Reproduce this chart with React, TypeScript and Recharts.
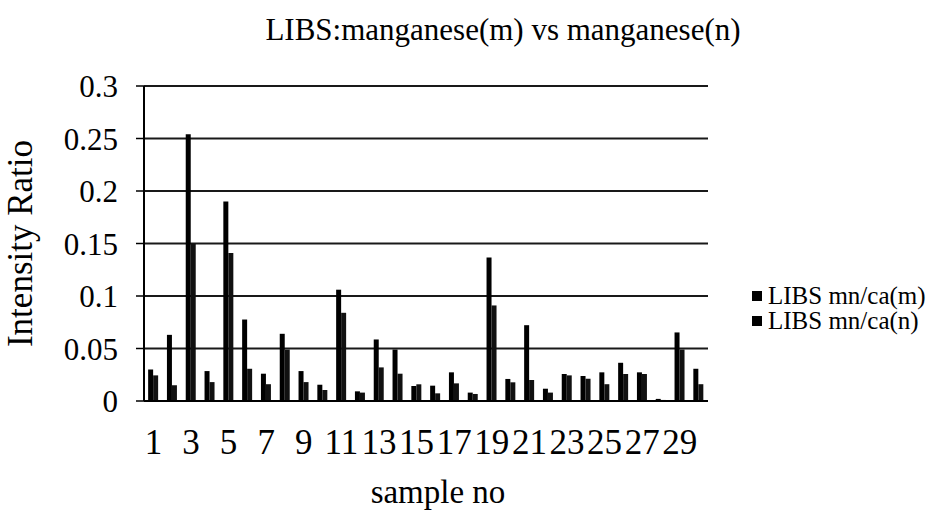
import React from "react";
import { BarChart, Bar, XAxis, YAxis, CartesianGrid, Legend } from "recharts";

const samples = [
  "1", "2", "3", "4", "5", "6", "7", "8", "9", "10",
  "11", "12", "13", "14", "15", "16", "17", "18", "19", "20",
  "21", "22", "23", "24", "25", "26", "27", "28", "29", "30",
];
const mnCaM = [
  0.030, 0.063, 0.254, 0.0285, 0.190, 0.0776, 0.026, 0.064, 0.0285, 0.0155,
  0.106, 0.0092, 0.0586, 0.049, 0.0143, 0.0146, 0.0273, 0.008, 0.1366, 0.021,
  0.0722, 0.0117, 0.0257, 0.0238, 0.0273, 0.0364, 0.0273, 0.002, 0.0653, 0.0307,
];
const mnCaN = [
  0.0244, 0.015, 0.150, 0.018, 0.141, 0.0307, 0.016, 0.049, 0.018, 0.0105,
  0.084, 0.008, 0.032, 0.026, 0.0159, 0.0073, 0.0168, 0.0067, 0.091, 0.0178,
  0.020, 0.008, 0.0244, 0.0212, 0.016, 0.0257, 0.0257, 0.001, 0.049, 0.016,
];
const yTicks = [0, 0.05, 0.1, 0.15, 0.2, 0.25, 0.3];
const yTickLabels = ["0", "0.05", "0.1", "0.15", "0.2", "0.25", "0.3"];
const seriesNames = ["LIBS mn/ca(m)", "LIBS mn/ca(n)"];

const data = samples.map((s, i) => ({ sample: s, m: mnCaM[i], n: mnCaN[i] }));

const FONT = "Liberation Serif";

const LegendContent = (props: any) => {
  const payload = props.payload || [];
  return (
    <div style={{ fontFamily: FONT, fontSize: 25, color: "#000" }}>
      {payload.map((p: any, i: number) => (
        <div key={i} style={{ display: "flex", alignItems: "center", height: 25 }}>
          <span style={{ display: "inline-block", width: 10, height: 10, background: "#000", marginRight: 6 }} />
          <span>{p.value}</span>
        </div>
      ))}
    </div>
  );
};

export default function App() {
  return (
    <div style={{ position: "absolute", left: 0, top: 0, width: 934, height: 521, background: "#fff" }}>
      <div
        style={{
          position: "absolute",
          left: 503,
          top: 12,
          transform: "translateX(-50%)",
          whiteSpace: "nowrap",
          fontFamily: FONT,
          fontSize: 31,
          color: "#000",
        }}
      >
        LIBS:manganese(m) vs manganese(n)
      </div>
      <BarChart
        width={934}
        height={521}
        data={data}
        margin={{ top: 86, right: 226, bottom: 0, left: 0 }}
        barCategoryGap="22%"
        barGap={0}
        style={{ fontFamily: FONT }}
      >
        <CartesianGrid horizontal={true} vertical={false} stroke="#000" strokeWidth={2} strokeOpacity={0.9} />
        <XAxis
          dataKey="sample"
          height={120}
          interval={1}
          tickLine={false}
          tickSize={0}
          tickMargin={28}
          axisLine={{ stroke: "#000", strokeWidth: 2 }}
          tick={{ fontFamily: FONT, fontSize: 35, fill: "#000" }}
          label={{
            value: "sample no",
            position: "insideBottom",
            offset: 18,
            dx: 12,
            style: { fontFamily: FONT, fontSize: 33, fill: "#000" },
          }}
        />
        <YAxis
          width={144}
          domain={[0, 0.3]}
          ticks={yTicks}
          interval={0}
          tickSize={8}
          tickMargin={18}
          tickFormatter={(v: number) => yTickLabels[yTicks.indexOf(v)] ?? String(v)}
          axisLine={{ stroke: "#000", strokeWidth: 2 }}
          tickLine={{ stroke: "#000", strokeWidth: 1.5 }}
          tick={{ fontFamily: FONT, fontSize: 31, fill: "#000" }}
          label={{
            value: "Intensity Ratio",
            angle: -90,
            position: "insideLeft",
            offset: 8,
            style: { fontFamily: FONT, fontSize: 35, fill: "#000", textAnchor: "middle" },
            dx: 12,
          }}
        />
        <Legend
          layout="vertical"
          align="center"
          verticalAlign="middle"
          content={<LegendContent />}
          wrapperStyle={{ left: 752, top: 283, width: 190 }}
        />
        <Bar dataKey="m" name={seriesNames[0]} fill="#000" isAnimationActive={false} />
        <Bar dataKey="n" name={seriesNames[1]} fill="#111" isAnimationActive={false} />
      </BarChart>
    </div>
  );
}
